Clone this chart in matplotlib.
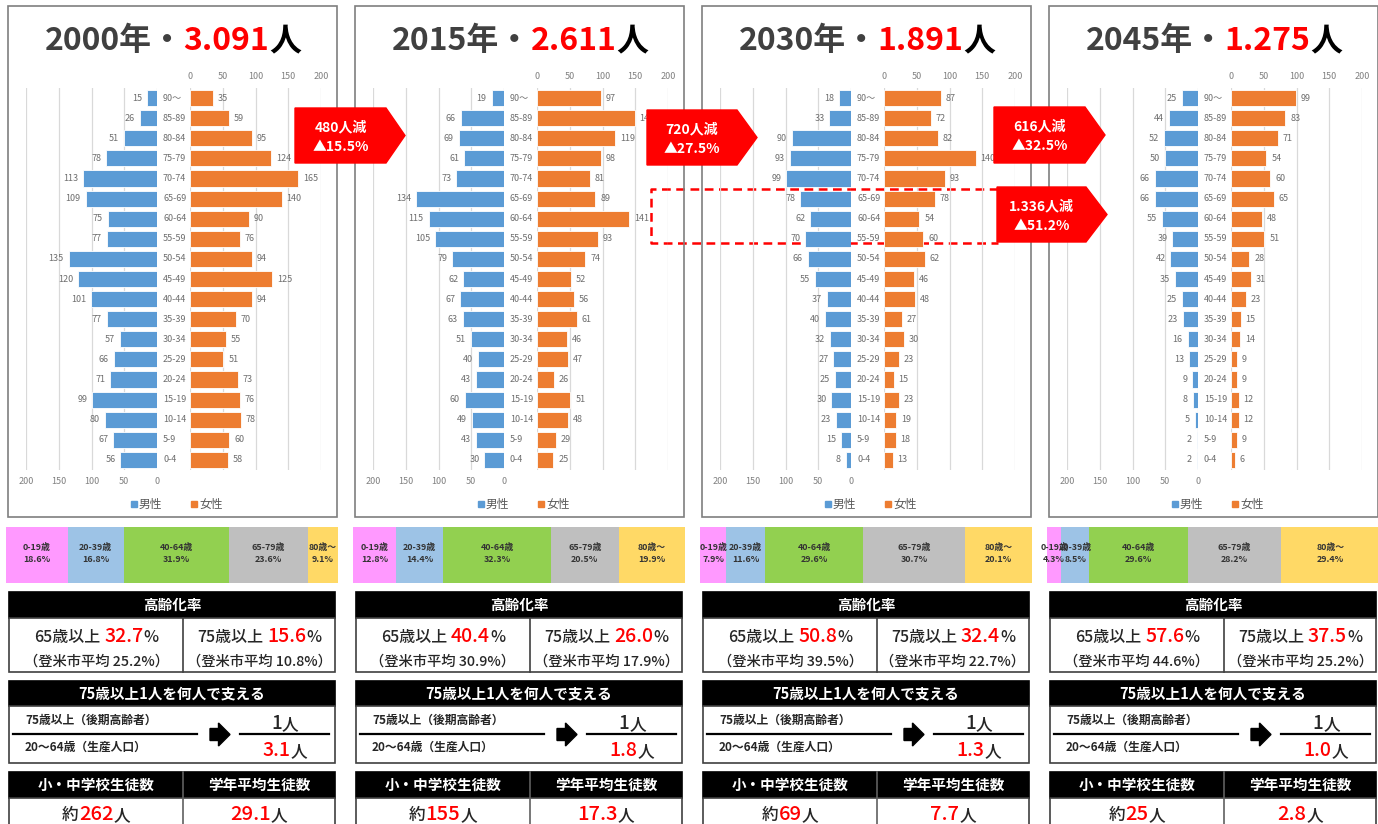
import matplotlib
matplotlib.use('Agg')
import matplotlib.pyplot as plt
from matplotlib.patches import Rectangle, Polygon
from matplotlib.transforms import blended_transform_factory
import numpy as np

plt.rcParams['font.family'] = ['Noto Sans CJK JP', 'DejaVu Sans']

# ---------------- data ----------------
ages = ['90～', '85-89', '80-84', '75-79', '70-74', '65-69', '60-64', '55-59', '50-54',
        '45-49', '40-44', '35-39', '30-34', '25-29', '20-24', '15-19', '10-14', '5-9', '0-4']
series = ['男性', '女性']

years = ['2000年', '2015年', '2030年', '2045年']
totals = ['3.091', '2.611', '1.891', '1.275']

male_2000 = [15, 26, 51, 78, 113, 109, 75, 77, 135, 120, 101, 77, 57, 66, 71, 99, 80, 67, 56]
female_2000 = [35, 59, 95, 124, 165, 140, 90, 76, 94, 125, 94, 70, 55, 51, 73, 76, 78, 60, 58]
male_2015 = [19, 66, 69, 61, 73, 134, 115, 105, 79, 62, 67, 63, 51, 40, 43, 60, 49, 43, 30]
female_2015 = [97, 149, 119, 98, 81, 89, 141, 93, 74, 52, 56, 61, 46, 47, 26, 51, 48, 29, 25]
male_2030 = [18, 33, 90, 93, 99, 78, 62, 70, 66, 55, 37, 40, 32, 27, 25, 30, 23, 15, 8]
female_2030 = [87, 72, 82, 140, 93, 78, 54, 60, 62, 46, 48, 27, 30, 23, 15, 23, 19, 18, 13]
male_2045 = [25, 44, 52, 50, 66, 66, 55, 39, 42, 35, 25, 23, 16, 13, 9, 8, 5, 2, 2]
female_2045 = [99, 83, 71, 54, 60, 65, 48, 51, 28, 31, 23, 15, 14, 9, 9, 12, 12, 9, 6]

axis_ticks = [0, 50, 100, 150, 200]

groups = ['0-19歳', '20-39歳', '40-64歳', '65-79歳', '80歳～']
share_2000 = [18.6, 16.8, 31.9, 23.6, 9.1]
share_2015 = [12.8, 14.4, 32.3, 20.5, 19.9]
share_2030 = [7.9, 11.6, 29.6, 30.7, 20.1]
share_2045 = [4.3, 8.5, 29.6, 28.2, 29.4]

aging65 = [32.7, 40.4, 50.8, 57.6]
city65 = [25.2, 30.9, 39.5, 44.6]
aging75 = [15.6, 26.0, 32.4, 37.5]
city75 = [10.8, 17.9, 22.7, 25.2]
support = [3.1, 1.8, 1.3, 1.0]
students = [262, 155, 69, 25]
per_grade = [29.1, 17.3, 7.7, 2.8]

decrease_people = ['480人減', '720人減', '616人減', '1.336人減']
decrease_pct = ['▲15.5%', '▲27.5%', '▲32.5%', '▲51.2%']

# ---------------- styles ----------------
W, H = 1378, 824
BLUE = '#5B9BD5'
ORANGE = '#ED7D31'
RED = '#FF0000'
K = '#262626'
GRID = '#D9D9D9'
TICK = '#808080'
LAB = '#6E6E6E'
BODY_W = 'medium'
seg_colors = ['#FF99FF', '#9DC3E6', '#92D050', '#BFBFBF', '#FFD966']
OFF = [0, 347, 694, 1041]

fig = plt.figure(figsize=(W / 100, H / 100), dpi=100)
fig.patch.set_facecolor('white')


def add_ax(x0, y0, x1, y1, z=1):
    ax = fig.add_axes([x0 / W, 1 - y1 / H, (x1 - x0) / W, (y1 - y0) / H])
    ax.set_zorder(z)
    ax.patch.set_alpha(0)
    return ax


# background overlay (behind pyramids)
bg = add_ax(0, 0, W, H, z=0)
bg.set_xlim(0, W); bg.set_ylim(H, 0); bg.axis('off')
# foreground overlay
ov = add_ax(0, 0, W, H, z=10)
ov.set_xlim(0, W); ov.set_ylim(H, 0); ov.axis('off')

renderer = fig.canvas.get_renderer()


def rich(x, y, parts, ha='center'):
    """parts: (text, size, color, weight[, gap_after_px])"""
    texts, widths = [], []
    for p in parts:
        s, size, color, weight = p[:4]
        gap = p[4] if len(p) > 4 else 0
        t = ov.text(0, y, s, fontsize=size, color=color, fontweight=weight,
                    ha='left', va='baseline', zorder=20)
        w = t.get_window_extent(renderer).width
        texts.append(t)
        widths.append(w + gap)
    total = sum(widths)
    start = x - total / 2 if ha == 'center' else x
    for t, w in zip(texts, widths):
        t.set_x(start)
        start += w


males = [male_2000, male_2015, male_2030, male_2045]
females = [female_2000, female_2015, female_2030, female_2045]
shares = [share_2000, share_2015, share_2030, share_2045]

# dashed highlight box (behind bars)
bg.plot([998, 651, 651, 998], [189, 189, 243, 243], color=RED, lw=1.8,
        ls=(0, (3.5, 2.2)), solid_capstyle='butt')

for k, off in enumerate(OFF):
    # panel frame
    ov.add_patch(Rectangle((8 + off, 6), 329, 511, fill=False, ec='#7F7F7F', lw=1.2, zorder=5))
    # title
    rich(173 + off, 50, [(years[k] + '・', 23, '#404040', 'bold'),
                         (totals[k], 23, RED, 'bold'),
                         ('人', 23, 'black', 'bold')])

    n = len(ages)
    y = np.arange(n)
    axL = add_ax(26 + off, 88, 157 + off, 470, z=2)
    axR = add_ax(190 + off, 88, 321 + off, 470, z=2)
    axL.barh(y, males[k], height=0.8, color=BLUE, edgecolor='white', linewidth=0.6, zorder=3)
    axR.barh(y, females[k], height=0.8, color=ORANGE, edgecolor='white', linewidth=0.6, zorder=3)
    axL.set_xlim(200, 0)
    axR.set_xlim(0, 200)
    for ax in (axL, axR):
        ax.set_ylim(n - 0.5, -0.5)
        ax.set_xticks(axis_ticks)
        ax.set_yticks([])
        for s in ax.spines.values():
            s.set_visible(False)
        ax.grid(axis='x', color=GRID, lw=0.9, zorder=0)
        ax.set_axisbelow(True)
        ax.tick_params(axis='x', length=0, labelsize=6.5, labelcolor=TICK, pad=5)
    axR.xaxis.set_ticks_position('top')
    axR.xaxis.set_label_position('top')
    for i, v in enumerate(males[k]):
        axL.annotate(str(v), (v, i), xytext=(-3.5, 0), textcoords='offset points',
                     ha='right', va='center', fontsize=6.5, color=LAB)
    for i, v in enumerate(females[k]):
        axR.annotate(str(v), (v, i), xytext=(3.5, 0), textcoords='offset points',
                     ha='left', va='center', fontsize=6.5, color=LAB)
    tr = blended_transform_factory(ov.transData, axR.transData)
    for i, a in enumerate(ages):
        fig.text(163 + off, i, a, transform=tr, ha='left', va='center',
                 fontsize=6.5, color=LAB, zorder=20)

    # legend
    ov.add_patch(Rectangle((131 + off, 501), 5.5, 5.5, color=BLUE, zorder=6))
    ov.text(139 + off, 504, series[0], fontsize=8.5, color='#595959', va='center', ha='left')
    ov.add_patch(Rectangle((191 + off, 501), 5.5, 5.5, color=ORANGE, zorder=6))
    ov.text(199 + off, 504, series[1], fontsize=8.5, color='#595959', va='center', ha='left')

    # stacked age-share bar
    axS = add_ax(6 + off, 527, 338 + off, 583, z=2)
    left = 0
    for g, p, c in zip(groups, shares[k], seg_colors):
        axS.barh(0, p, left=left, height=1, color=c, edgecolor='none')
        axS.text(left + p / 2, 0.03, f'{g}\n{p:.1f}%', ha='center', va='center',
                 fontsize=6.4, fontweight='bold', color='#333333', linespacing=1.35)
        left += p
    axS.set_xlim(0, left)
    axS.set_ylim(-0.5, 0.5)
    axS.axis('off')

    L, R, M = 9 + off, 335 + off, 183 + off
    # table 1: 高齢化率
    ov.add_patch(Rectangle((L, 592), R - L, 26, fc='black', ec='black', lw=1.2, zorder=5))
    ov.add_patch(Rectangle((L, 618), R - L, 54, fc='white', ec='#404040', lw=1.2, zorder=5))
    ov.plot([M, M], [618, 672], color='#404040', lw=1.2, zorder=6)
    ov.text((L + R) / 2, 605, '高齢化率', color='white', fontsize=10.5, fontweight='bold',
            ha='center', va='center', zorder=20)
    rich((L + M) / 2, 642, [('65歳以上', 11.5, K, BODY_W, 4),
                            (f'{aging65[k]:.1f}', 14, RED, BODY_W),
                            ('%', 11.5, K, BODY_W)])
    rich((L + M) / 2, 666, [(f'（登米市平均 {city65[k]:.1f}%）', 10.3, K, BODY_W)])
    rich((M + R) / 2, 642, [('75歳以上', 11.5, K, BODY_W, 4),
                            (f'{aging75[k]:.1f}', 14, RED, BODY_W),
                            ('%', 11.5, K, BODY_W)])
    rich((M + R) / 2, 666, [(f'（登米市平均 {city75[k]:.1f}%）', 10.3, K, BODY_W)])

    # table 2: support ratio
    ov.add_patch(Rectangle((L, 681), R - L, 25, fc='black', ec='black', lw=1.2, zorder=5))
    ov.add_patch(Rectangle((L, 706), R - L, 57, fc='white', ec='#404040', lw=1.2, zorder=5))
    ov.text((L + R) / 2, 693.5, '75歳以上1人を何人で支える', color='white', fontsize=10.5,
            fontweight='bold', ha='center', va='center', zorder=20)
    ov.text(25 + off, 724, '75歳以上（後期高齢者）', fontsize=8.5, fontweight='bold', color=K,
            ha='left', va='baseline', zorder=20)
    ov.text(25 + off, 751, '20～64歳（生産人口）', fontsize=8.5, fontweight='bold', color=K,
            ha='left', va='baseline', zorder=20)
    ov.plot([13 + off, 197 + off], [734, 734], color='black', lw=1.6, zorder=6)
    ov.add_patch(Polygon([(210 + off, 728.5), (218.5 + off, 728.5), (218.5 + off, 723),
                          (230 + off, 734.5), (218.5 + off, 746), (218.5 + off, 740.5),
                          (210 + off, 740.5)], closed=True, color='black', zorder=6))
    ov.plot([240 + off, 329 + off], [734, 734], color='black', lw=1.6, zorder=6)
    rich(285 + off, 729, [('1', 13.5, K, BODY_W), ('人', 12, K, BODY_W)])
    rich(285 + off, 756, [(f'{support[k]:.1f}', 14, RED, BODY_W), ('人', 12, K, BODY_W)])

    # table 3: students
    ov.add_patch(Rectangle((L, 772), R - L, 26, fc='black', ec='black', lw=1.2, zorder=5))
    ov.add_patch(Rectangle((L, 798), R - L, 60, fc='white', ec='#404040', lw=1.2, zorder=5))
    ov.plot([M, M], [772, 830], color='#606060', lw=1.2, zorder=6)
    ov.text((L + M) / 2, 785, '小・中学校生徒数', color='white', fontsize=10.5, fontweight='bold',
            ha='center', va='center', zorder=20)
    ov.text((M + R) / 2, 785, '学年平均生徒数', color='white', fontsize=10.5, fontweight='bold',
            ha='center', va='center', zorder=20)
    rich((L + M) / 2, 820, [('約', 12, K, BODY_W), (str(students[k]), 14.5, RED, BODY_W),
                            ('人', 12, K, BODY_W)])
    rich((M + R) / 2, 820, [(f'{per_grade[k]:.1f}', 14.5, RED, BODY_W), ('人', 12, K, BODY_W)])

# decrease call-out arrows
arrow_boxes = [(295, 386, 405, 108, 163), (647, 737, 757, 110, 165),
               (994, 1085, 1105, 107, 163), (997, 1086, 1107, 187, 242)]
for (x0, xb, xt, y0, y1), t1, t2 in zip(arrow_boxes, decrease_people, decrease_pct):
    ov.add_patch(Polygon([(x0, y0), (xb, y0), (xt, (y0 + y1) / 2), (xb, y1), (x0, y1)],
                         closed=True, color=RED, zorder=15))
    cx = (x0 + xb) / 2
    ov.text(cx, y0 + 19, t1, color='white', fontsize=10, fontweight='bold',
            ha='center', va='center', zorder=21)
    ov.text(cx, y0 + 39, t2, color='white', fontsize=10, fontweight='bold',
            ha='center', va='center', zorder=21)

fig.savefig('out.png', dpi=100, facecolor='white')
